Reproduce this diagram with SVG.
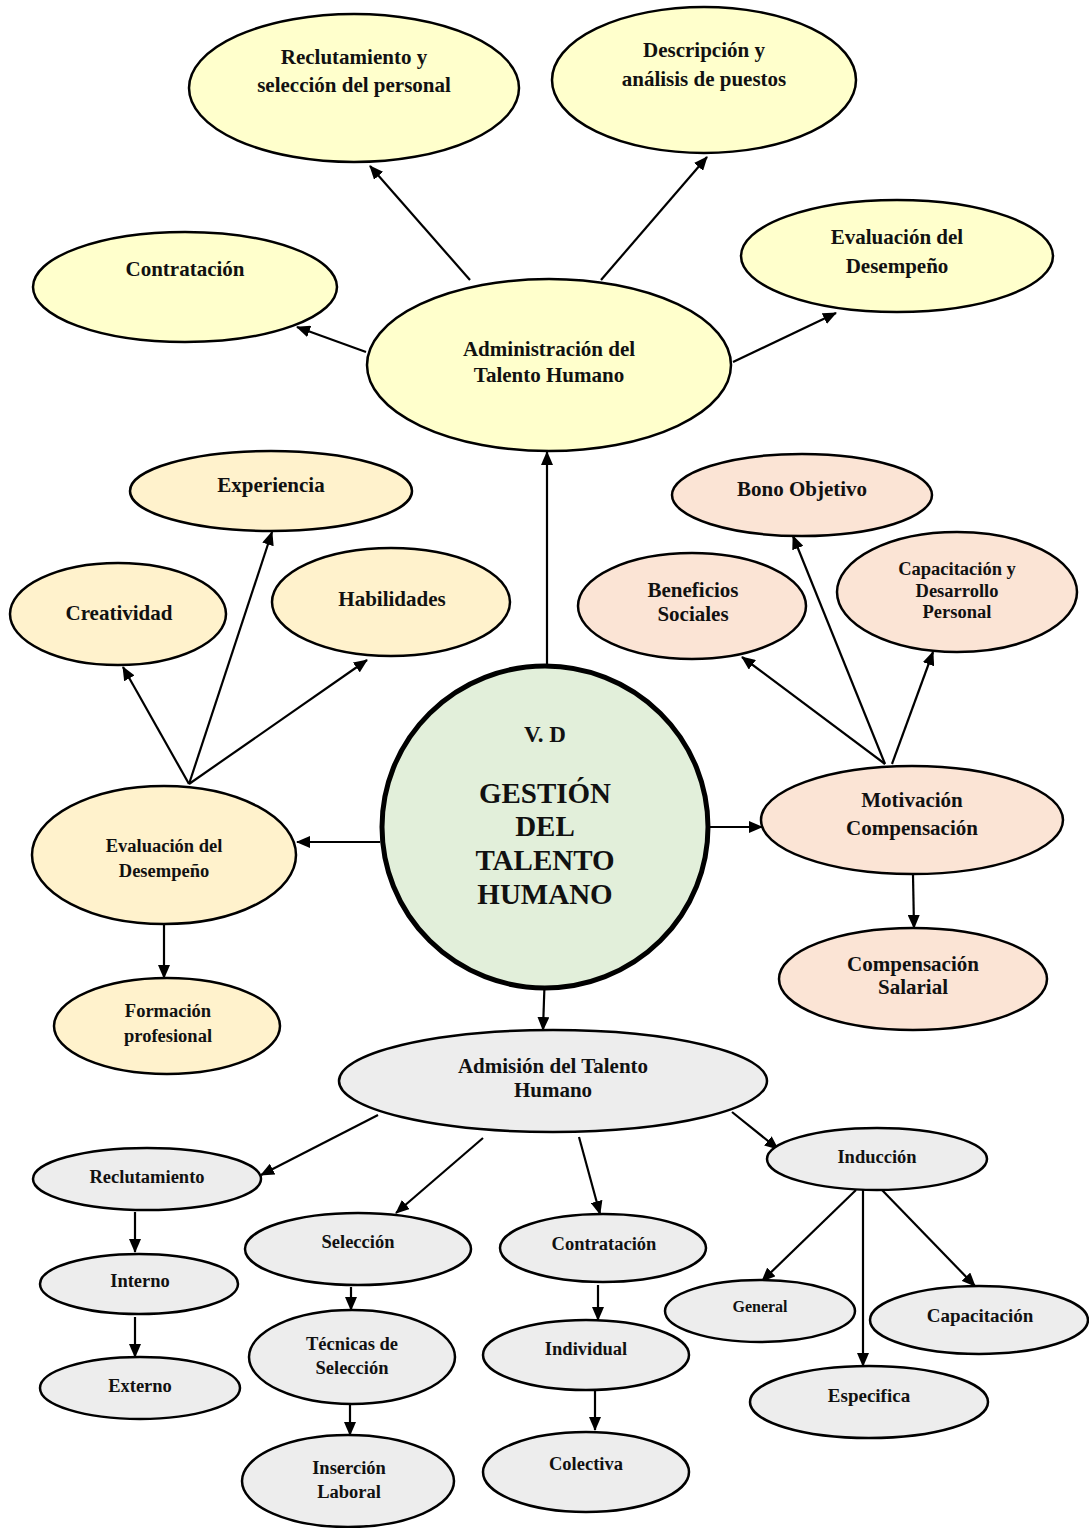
<svg xmlns="http://www.w3.org/2000/svg" width="1089" height="1528" viewBox="0 0 1089 1528">
<style>
  .n{stroke:#000;stroke-width:2.5}
  .y{fill:#FFFFCC}
  .o{fill:#FFF2CC}
  .p{fill:#FBE4D5}
  .g{fill:#EDEDED}
  .c{fill:#E2EFDA;stroke:#000;stroke-width:5}
  text{font-family:"Liberation Serif","Times New Roman",serif;font-weight:bold;text-anchor:middle;fill:#111}
  .t19{font-size:21px}
  .t17{font-size:19px}
  .t16{font-size:18.5px}
  .t14{font-size:16px}
  .big{font-size:29px}
  .con line{stroke:#000;stroke-width:2.2;marker-end:url(#ah)}
</style>
<defs>
  <marker id="ah" viewBox="0 0 14 12" refX="13" refY="6" markerWidth="14" markerHeight="12" orient="auto" markerUnits="userSpaceOnUse">
    <path d="M0,0 L14,6 L0,12 z" fill="#000"/>
  </marker>
</defs>
<rect width="1089" height="1528" fill="#fff"/>

<g class="con">
  <line x1="470" y1="280" x2="370" y2="166"/>
  <line x1="601" y1="280" x2="707" y2="157"/>
  <line x1="366" y1="352" x2="297" y2="327"/>
  <line x1="733" y1="362" x2="836" y2="313"/>
  <line x1="547" y1="664" x2="547" y2="452"/>
  <line x1="380" y1="842" x2="297" y2="842"/>
  <line x1="710" y1="827" x2="762" y2="827"/>
  <line x1="545" y1="970" x2="543" y2="1030"/>
  <line x1="189" y1="784" x2="123" y2="667"/>
  <line x1="189" y1="784" x2="272" y2="532"/>
  <line x1="189" y1="784" x2="367" y2="660"/>
  <line x1="164" y1="925" x2="164" y2="978"/>
  <line x1="885" y1="764" x2="742" y2="657"/>
  <line x1="885" y1="764" x2="793" y2="536"/>
  <line x1="892" y1="764" x2="933" y2="652"/>
  <line x1="913" y1="875" x2="914" y2="928"/>
  <line x1="378" y1="1115" x2="261" y2="1175"/>
  <line x1="483" y1="1138" x2="396" y2="1213"/>
  <line x1="579" y1="1137" x2="600" y2="1214"/>
  <line x1="732" y1="1112" x2="778" y2="1149"/>
  <line x1="135" y1="1212" x2="135" y2="1252"/>
  <line x1="135" y1="1317" x2="135" y2="1357"/>
  <line x1="351" y1="1287" x2="351" y2="1310"/>
  <line x1="350" y1="1404" x2="350" y2="1435"/>
  <line x1="598" y1="1285" x2="598" y2="1320"/>
  <line x1="595" y1="1390" x2="595" y2="1430"/>
  <line x1="856" y1="1190" x2="762" y2="1281"/>
  <line x1="863" y1="1190" x2="863" y2="1366"/>
  <line x1="882" y1="1190" x2="975" y2="1286"/>
</g>

<g id="reclutamiento-seleccion">
  <ellipse class="n y" cx="354" cy="88" rx="165" ry="74"/>
  <text class="t19" x="354" y="64">Reclutamiento y</text>
  <text class="t19" x="354" y="92">selección del personal</text>
</g>
<g id="descripcion">
  <ellipse class="n y" cx="704" cy="80" rx="152" ry="73"/>
  <text class="t19" x="704" y="57">Descripción y</text>
  <text class="t19" x="704" y="86">análisis de puestos</text>
</g>
<g id="contratacion-top">
  <ellipse class="n y" cx="185" cy="287" rx="152" ry="55"/>
  <text class="t19" x="185" y="276">Contratación</text>
</g>
<g id="evaluacion-top">
  <ellipse class="n y" cx="897" cy="256" rx="156" ry="56"/>
  <text class="t19" x="897" y="244">Evaluación del</text>
  <text class="t19" x="897" y="273">Desempeño</text>
</g>
<g id="administracion">
  <ellipse class="n y" cx="549" cy="365" rx="182" ry="86"/>
  <text class="t19" x="549" y="356">Administración del</text>
  <text class="t19" x="549" y="382">Talento Humano</text>
</g>

<g id="experiencia">
  <ellipse class="n o" cx="271" cy="491" rx="141" ry="40"/>
  <text class="t19" x="271" y="492">Experiencia</text>
</g>
<g id="creatividad">
  <ellipse class="n o" cx="118" cy="614" rx="108" ry="51"/>
  <text class="t19" x="119" y="620">Creatividad</text>
</g>
<g id="habilidades">
  <ellipse class="n o" cx="391" cy="602" rx="119" ry="54"/>
  <text class="t19" x="392" y="606">Habilidades</text>
</g>
<g id="evaluacion-left">
  <ellipse class="n o" cx="164" cy="855" rx="132" ry="69"/>
  <text class="t16" x="164" y="852">Evaluación del</text>
  <text class="t16" x="164" y="877">Desempeño</text>
</g>
<g id="formacion">
  <ellipse class="n o" cx="167" cy="1026" rx="113" ry="48"/>
  <text class="t16" x="168" y="1017">Formación</text>
  <text class="t16" x="168" y="1042">profesional</text>
</g>

<g id="centro">
  <ellipse class="c" cx="545" cy="827" rx="163" ry="161"/>
  <text x="545" y="742" style="font-size:23px">V. D</text>
  <text class="big" x="545" y="803">GESTIÓN</text>
  <text class="big" x="545" y="836">DEL</text>
  <text class="big" x="545" y="870">TALENTO</text>
  <text class="big" x="545" y="904">HUMANO</text>
</g>

<g id="bono">
  <ellipse class="n p" cx="802" cy="495" rx="130" ry="41"/>
  <text class="t19" x="802" y="496">Bono Objetivo</text>
</g>
<g id="beneficios">
  <ellipse class="n p" cx="692" cy="606" rx="114" ry="53"/>
  <text class="t19" x="693" y="597">Beneficios</text>
  <text class="t19" x="693" y="621">Sociales</text>
</g>
<g id="capacitacion-desarrollo">
  <ellipse class="n p" cx="957" cy="592" rx="120" ry="60"/>
  <text class="t16" x="957" y="575">Capacitación y</text>
  <text class="t16" x="957" y="597">Desarrollo</text>
  <text class="t16" x="957" y="618">Personal</text>
</g>
<g id="motivacion">
  <ellipse class="n p" cx="912" cy="820" rx="151" ry="54"/>
  <text class="t19" x="912" y="807">Motivación</text>
  <text class="t19" x="912" y="835">Compensación</text>
</g>
<g id="compensacion-salarial">
  <ellipse class="n p" cx="913" cy="979" rx="134" ry="51"/>
  <text class="t19" x="913" y="971">Compensación</text>
  <text class="t19" x="913" y="994">Salarial</text>
</g>

<g id="admision">
  <ellipse class="n g" cx="553" cy="1081" rx="214" ry="51"/>
  <text class="t19" x="553" y="1073">Admisión del Talento</text>
  <text class="t19" x="553" y="1097">Humano</text>
</g>
<g id="reclutamiento">
  <ellipse class="n g" cx="147" cy="1179" rx="114" ry="31"/>
  <text class="t16" x="147" y="1183">Reclutamiento</text>
</g>
<g id="interno">
  <ellipse class="n g" cx="139" cy="1284" rx="99" ry="30"/>
  <text class="t16" x="140" y="1287">Interno</text>
</g>
<g id="externo">
  <ellipse class="n g" cx="140" cy="1388" rx="100" ry="31"/>
  <text class="t16" x="140" y="1392">Externo</text>
</g>
<g id="seleccion">
  <ellipse class="n g" cx="358" cy="1249" rx="113" ry="36"/>
  <text class="t16" x="358" y="1248">Selección</text>
</g>
<g id="tecnicas">
  <ellipse class="n g" cx="352" cy="1357" rx="103" ry="47"/>
  <text class="t16" x="352" y="1350">Técnicas de</text>
  <text class="t16" x="352" y="1374">Selección</text>
</g>
<g id="insercion">
  <ellipse class="n g" cx="348" cy="1481" rx="106" ry="46"/>
  <text class="t16" x="349" y="1474">Inserción</text>
  <text class="t16" x="349" y="1498">Laboral</text>
</g>
<g id="contratacion-bottom">
  <ellipse class="n g" cx="603" cy="1248" rx="103" ry="34"/>
  <text class="t16" x="604" y="1250">Contratación</text>
</g>
<g id="individual">
  <ellipse class="n g" cx="586" cy="1355" rx="103" ry="35"/>
  <text class="t16" x="586" y="1355">Individual</text>
</g>
<g id="colectiva">
  <ellipse class="n g" cx="586" cy="1472" rx="103" ry="40"/>
  <text class="t16" x="586" y="1470">Colectiva</text>
</g>
<g id="induccion">
  <ellipse class="n g" cx="877" cy="1159" rx="110" ry="31"/>
  <text class="t16" x="877" y="1163">Inducción</text>
</g>
<g id="general">
  <ellipse class="n g" cx="760" cy="1311" rx="95" ry="31"/>
  <text class="t14" x="760" y="1312">General</text>
</g>
<g id="capacitacion">
  <ellipse class="n g" cx="979" cy="1320" rx="109" ry="34"/>
  <text class="t17" x="980" y="1322">Capacitación</text>
</g>
<g id="especifica">
  <ellipse class="n g" cx="869" cy="1402" rx="119" ry="36"/>
  <text class="t17" x="869" y="1402">Especifica</text>
</g>
</svg>
